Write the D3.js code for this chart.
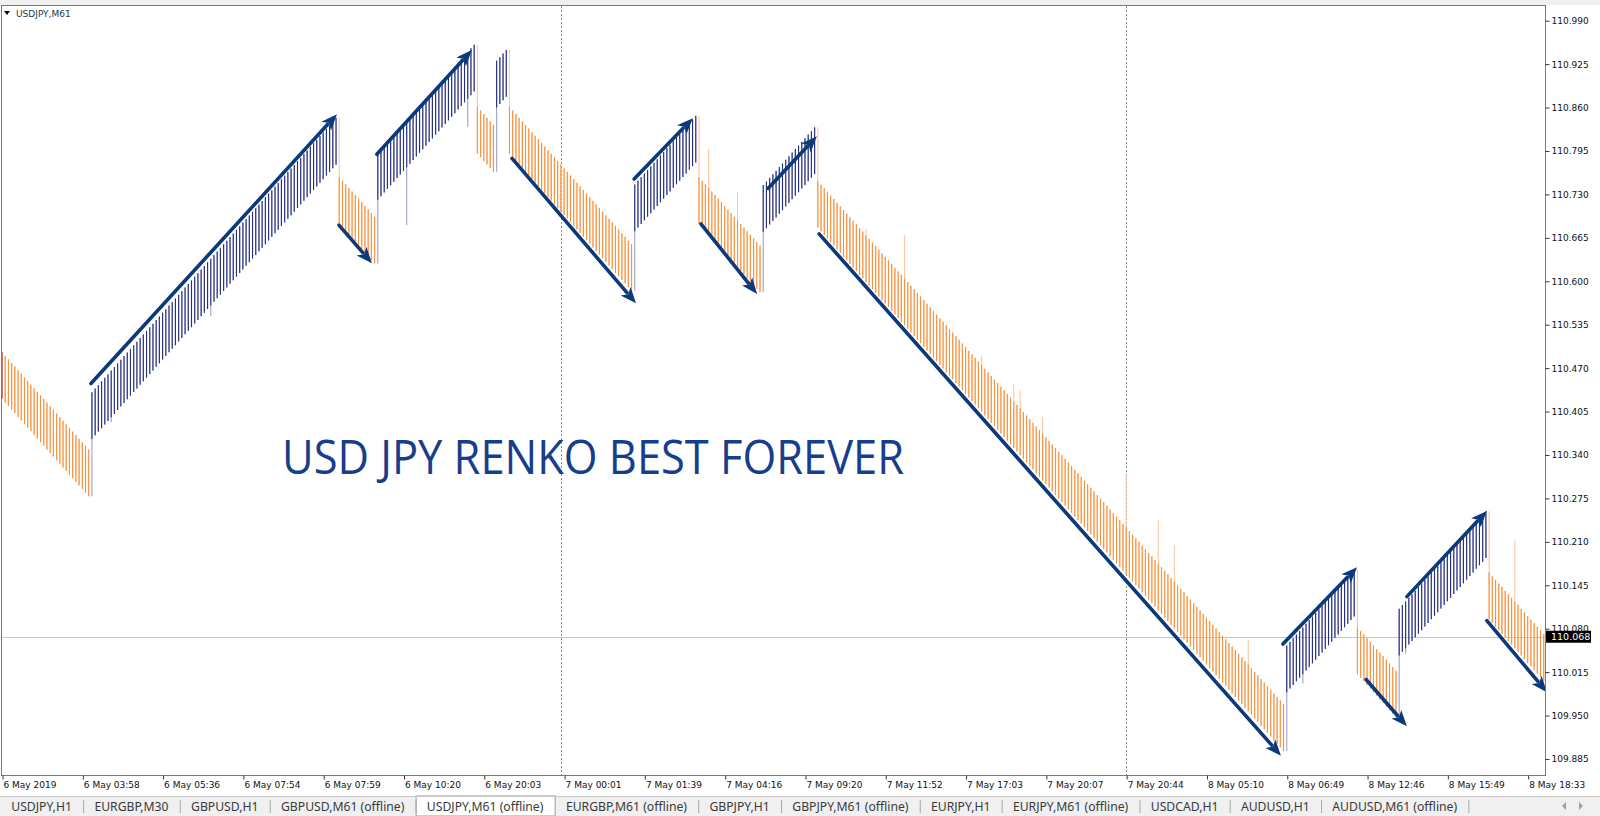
<!DOCTYPE html>
<html><head><meta charset="utf-8">
<script src="https://cdn.jsdelivr.net/npm/d3@7"></script>
<style>body{margin:0;background:#fff;overflow:hidden} svg{display:block}</style>
</head><body>
<svg id="c" width="1600" height="816"></svg>
<script>
// ---------------- data ----------------
const symbolLabel = "USDJPY,M61";
const headline = "USD JPY RENKO BEST FOREVER";
const brickSize = 0.0054;      // renko step between consecutive bars
const barRange = 0.070;        // high-low span of a regular bar
// renko legs: direction, number of bars, high of the first bar
const segDir = ["down","up","down","up","down","up","down","up","down","up","down","up","down","up","down"];
const segBars = [28, 77, 12, 31, 6, 4, 39, 20, 20, 17, 146, 22, 13, 28, 18];
const segFirstHigh = [110.494, 110.434, 110.756, 110.792, 110.861, 110.930, 110.861, 110.745, 110.756, 110.744, 110.750, 110.055, 110.082, 110.110, 110.164];
// single-bar wicks (bar index, extreme price)
const wickBar = [34, 65, 126, 145, 220, 229, 269, 281, 305, 315, 317, 324, 350, 360, 365, 388, 405, 437, 471];
const wickPrice = [110.389, 110.548, 110.684, 110.831, 110.798, 110.733, 110.678, 110.669, 110.489, 110.446, 110.437, 110.397, 110.313, 110.242, 110.205, 110.064, 109.998, 110.043, 110.212];
const timeTickBars = [0,25,50,75,100,125,150,175,200,225,250,275,300,325,350,375,400,425,450,475];
const timeLabels = ["6 May 2019","6 May 03:58","6 May 05:36","6 May 07:54","6 May 07:59","6 May 10:20","6 May 20:03","7 May 00:01","7 May 01:39","7 May 04:16","7 May 09:20","7 May 11:52","7 May 17:03","7 May 20:07","7 May 20:44","8 May 05:10","8 May 06:49","8 May 12:46","8 May 15:49","8 May 18:33"];
const priceTicks = [109.885,109.950,110.015,110.080,110.145,110.210,110.275,110.340,110.405,110.470,110.535,110.600,110.665,110.730,110.795,110.860,110.925,110.990];
const lastPrice = 110.068;
const daySeparatorBars = [174, 350];
// hand-drawn trend arrows (bar index / price of start and end)
const arrowStartBar = [27.7, 104.9, 116.7, 158.8, 196.8, 217.6, 238.5, 254.4, 398.8, 424.7, 437.4, 462.3];
const arrowStartPrice = [110.447, 110.684, 110.790, 110.784, 110.753, 110.686, 110.739, 110.671, 110.057, 110.004, 110.128, 110.092];
const arrowEndBar = [104.3, 115.2, 146.3, 197.4, 215.1, 235.1, 253.7, 398.2, 421.9, 437.4, 462.3, 481.0];
const arrowEndPrice = [110.850, 110.627, 110.946, 110.567, 110.844, 110.581, 110.817, 109.890, 110.172, 109.934, 110.256, 109.985];
const tabs = ["USDJPY,H1","EURGBP,M30","GBPUSD,H1","GBPUSD,M61 (offline)","USDJPY,M61 (offline)","EURGBP,M61 (offline)","GBPJPY,H1","GBPJPY,M61 (offline)","EURJPY,H1","EURJPY,M61 (offline)","USDCAD,H1","AUDUSD,H1","AUDUSD,M61 (offline)"];
const activeTab = "USDJPY,M61 (offline)";

// ---------------- build bars (renko construction) ----------------
const bars = [];
segDir.forEach((d, s) => {
  for (let k = 0; k < segBars[s]; k++) {
    const high = d === "up" ? segFirstHigh[s] + k * brickSize : segFirstHigh[s] - k * brickSize;
    const low = high - barRange;
    let wHigh = high, wLow = low;
    if (k === 0 && bars.length) {
      const prev = bars[bars.length - 1];
      if (d === "up") wLow = Math.min(low, prev.low);
      else wHigh = Math.max(high, prev.high);
    }
    bars.push({i: bars.length, dir: d, high, low, wHigh, wLow});
  }
});
wickBar.forEach((b, j) => {
  const bar = bars[b];
  if (wickPrice[j] > bar.high) bar.wHigh = Math.max(bar.wHigh, wickPrice[j]);
  else bar.wLow = Math.min(bar.wLow, wickPrice[j]);
});

// ---------------- layout ----------------
const W = 1600, H = 816;
const plot = {left: 2, right: 1545, top: 6, bottom: 775};
const svg = d3.select("#c");
const x = d3.scaleLinear().domain([0, 480.4]).range([plot.left, plot.right]);
const y = d3.scaleLinear().domain([109.885, 110.990]).range([759.0, 20.7]);

// window chrome
svg.append("rect").attr("x",0).attr("y",0).attr("width",W).attr("height",5).attr("fill","#f0f0f0");
svg.append("rect").attr("x",0).attr("y",796).attr("width",W).attr("height",20).attr("fill","#f0f0f0");

svg.append("defs").append("clipPath").attr("id","pc").append("rect")
  .attr("x",plot.left).attr("y",plot.top).attr("width",plot.right-plot.left).attr("height",plot.bottom-plot.top);
const g = svg.append("g").attr("clip-path","url(#pc)");

// day separators
g.selectAll("line.sep").data(daySeparatorBars).join("line").attr("class","sep")
  .attr("x1",d=>Math.round(x(d))+0.5).attr("x2",d=>Math.round(x(d))+0.5)
  .attr("y1",plot.top).attr("y2",plot.bottom)
  .attr("stroke","#8c8c8c").attr("stroke-width",1).attr("stroke-dasharray","2,2");

// last price line
g.append("line").attr("x1",plot.left).attr("x2",plot.right)
  .attr("y1",Math.round(y(lastPrice))+0.5).attr("y2",Math.round(y(lastPrice))+0.5)
  .attr("stroke","#c8c8c8").attr("stroke-width",1);

const colUp = "#262f7c", colDn = "#f8913a";
const colUpW = "#9da2c6", colDnW = "#fcc7a2";
// wicks (light)
g.selectAll("line.wick").data(bars).join("line").attr("class","wick")
  .attr("x1",d=>x(d.i)).attr("x2",d=>x(d.i))
  .attr("y1",d=>y(d.wHigh)).attr("y2",d=>y(d.wLow))
  .attr("stroke",d=>d.dir==="up"?colUpW:colDnW).attr("stroke-width",1.1);
// bodies
g.selectAll("line.bar").data(bars).join("line").attr("class","bar")
  .attr("x1",d=>x(d.i)).attr("x2",d=>x(d.i))
  .attr("y1",d=>y(d.high)).attr("y2",d=>y(d.low))
  .attr("stroke",d=>d.i===0?"#9a2a22":(d.dir==="up"?colUp:colDn)).attr("stroke-width",1.1);

// arrows
const arrowCol = "#0b3a7c";
arrowStartBar.forEach((sb, j) => {
  const x1 = x(sb), y1 = y(arrowStartPrice[j]), x2 = x(arrowEndBar[j]), y2 = y(arrowEndPrice[j]);
  const dx = x2-x1, dy = y2-y1, L = Math.hypot(dx,dy), ux = dx/L, uy = dy/L;
  const hl = 16, hw = 6.5;
  const bx = x2 - ux*hl, by = y2 - uy*hl;
  g.append("line").attr("x1",x1).attr("y1",y1).attr("x2",bx+ux*2).attr("y2",by+uy*2)
    .attr("stroke",arrowCol).attr("stroke-width",3.6).attr("stroke-linecap","round");
  g.append("path").attr("d",`M${x2},${y2}L${bx - uy*hw},${by + ux*hw}L${bx + ux*4},${by + uy*4}L${bx + uy*hw},${by - ux*hw}Z`)
    .attr("fill",arrowCol);
});

// headline
svg.append("text").attr("x",282).attr("y",474).text(headline)
  .attr("font-family","'Open Sans', sans-serif").attr("font-size",47).attr("fill","#173e8c")
  .attr("textLength",622).attr("lengthAdjust","spacingAndGlyphs");

// frame
svg.append("rect").attr("x",plot.left-0.5).attr("y",plot.top-0.5).attr("width",plot.right-plot.left+1).attr("height",plot.bottom-plot.top+1)
  .attr("fill","none").attr("stroke","#7a7a7a").attr("stroke-width",1);

// right price axis
const ay = svg.append("g").attr("transform",`translate(${plot.right+0.5},0)`)
  .call(d3.axisRight(y).tickValues(priceTicks).tickSize(4).tickPadding(2).tickFormat(d3.format(".3f")));
ay.select(".domain").remove();
ay.selectAll("line").attr("stroke","#333");
ay.selectAll("text").attr("font-family","'DejaVu Sans', sans-serif").attr("font-size",9).attr("fill","#111");

// last price box
const ly = y(lastPrice);
svg.append("rect").attr("x",plot.right+1).attr("y",ly-6).attr("width",45).attr("height",12).attr("fill","#000");
svg.append("text").attr("x",plot.right+6).attr("y",ly).attr("dy","0.34em").text(d3.format(".3f")(lastPrice))
  .attr("font-family","'DejaVu Sans', sans-serif").attr("font-size",9.5).attr("fill","#fff");

// bottom time axis
const ax = svg.append("g").attr("transform",`translate(0,${plot.bottom+0.5})`)
  .call(d3.axisBottom(x).tickValues(timeTickBars).tickSize(4).tickPadding(2).tickFormat((d,i)=>timeLabels[i]));
ax.select(".domain").remove();
ax.selectAll("line").attr("stroke","#333").attr("transform","translate(0.5,0)");
ax.selectAll("text").attr("text-anchor","start").attr("dx",1)
  .attr("font-family","'DejaVu Sans', sans-serif").attr("font-size",9).attr("fill","#111");

// symbol label
svg.append("path").attr("d","M4,11L10,11L7,15Z").attr("fill","#000");
svg.append("text").attr("x",16).attr("y",17).text(symbolLabel)
  .attr("font-family","'DejaVu Sans', sans-serif").attr("font-size",9).attr("fill","#24384e");

// tabs
const tg = svg.append("g");
svg.append("line").attr("x1",0).attr("x2",W).attr("y1",796.5).attr("y2",796.5).attr("stroke","#c8c8c8");
let tx = 0;
tabs.forEach(t => {
  const txt = tg.append("text").attr("y",811).text(t)
    .attr("font-family","'Noto Sans', sans-serif").attr("font-size",12.2).attr("fill","#3a3a3a");
  const tw = txt.node().getComputedTextLength();
  const w = tw + 22.5;
  txt.attr("x", tx + (w - tw)/2);
  if (t === activeTab) {
    tg.insert("rect","text").attr("x",tx+0.5).attr("y",796).attr("width",w).attr("height",20)
      .attr("fill","#fff").attr("stroke","#9a9a9a");
  } else {
    tg.append("line").attr("x1",tx+w+0.5).attr("x2",tx+w+0.5).attr("y1",800).attr("y2",813).attr("stroke","#a8a8a8");
  }
  tx += w;
});
svg.append("path").attr("d","M1566,802L1562,806L1566,810Z").attr("fill","#a0a0a0");
svg.append("path").attr("d","M1579,802L1583,806L1579,810Z").attr("fill","#a0a0a0");
</script>
</body></html>
